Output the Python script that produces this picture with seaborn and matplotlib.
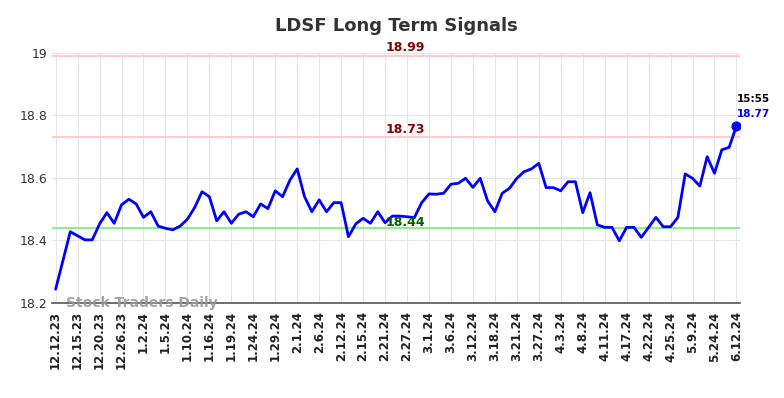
"""LDSF long term signals chart."""

import matplotlib

matplotlib.use("Agg")
import matplotlib.pyplot as plt
import matplotlib.transforms as mtransforms
import pandas as pd
import seaborn as sns


TICK_LABELS = [
    "12.12.23", "12.15.23", "12.20.23", "12.26.23", "1.2.24", "1.5.24",
    "1.10.24", "1.16.24", "1.19.24", "1.24.24", "1.29.24", "2.1.24",
    "2.6.24", "2.12.24", "2.15.24", "2.21.24", "2.27.24", "3.1.24",
    "3.6.24", "3.12.24", "3.18.24", "3.21.24", "3.27.24", "4.3.24",
    "4.8.24", "4.11.24", "4.17.24", "4.22.24", "4.25.24", "5.9.24",
    "5.24.24", "6.12.24",
]

PRICES = [
    18.244, 18.336, 18.428, 18.415, 18.402, 18.402, 18.453, 18.489,
    18.455, 18.514, 18.532, 18.517, 18.474, 18.492, 18.446, 18.439,
    18.434, 18.446, 18.468, 18.506, 18.556, 18.540, 18.463, 18.492,
    18.455, 18.484, 18.492, 18.476, 18.517, 18.502, 18.559, 18.540,
    18.593, 18.629, 18.540, 18.492, 18.530, 18.492, 18.521, 18.521,
    18.412, 18.453, 18.471, 18.455, 18.492, 18.457, 18.478, 18.478,
    18.476, 18.473, 18.521, 18.549, 18.548, 18.551, 18.580, 18.583,
    18.599, 18.570, 18.599, 18.527, 18.492, 18.551, 18.567, 18.599,
    18.620, 18.629, 18.647, 18.569, 18.569, 18.559, 18.588, 18.588,
    18.489, 18.553, 18.450, 18.442, 18.442, 18.399, 18.442, 18.442,
    18.410, 18.442, 18.474, 18.444, 18.444, 18.474, 18.613, 18.599,
    18.574, 18.668, 18.615, 18.690, 18.698, 18.766,
]

SIGNAL_HIGH = 18.99
SIGNAL_MID = 18.73
SIGNAL_LOW = 18.44
LAST_TIME = "15:55"
TICK_STEP = 3


def main():
    df = pd.DataFrame({"idx": range(len(PRICES)), "price": PRICES})

    sns.set_style("whitegrid", {"grid.color": "#e6e6e6"})
    plt.rcParams["font.family"] = ["DejaVu Sans"]

    fig = plt.figure(figsize=(7.84, 3.98), dpi=100)
    ax = fig.add_axes([0.0663, 0.2387, 0.8777, 0.6283])

    for level, color in [(SIGNAL_HIGH, "#ffcccc"), (SIGNAL_MID, "#ffcccc"), (SIGNAL_LOW, "#90ee90")]:
        ax.axhline(level, color=color, linewidth=1.5, zorder=1)

    sns.lineplot(data=df, x="idx", y="price", color="#0000ff", linewidth=2, ax=ax, zorder=3)

    last_i = len(PRICES) - 1
    last_v = PRICES[-1]
    ax.scatter([last_i], [last_v], color="#0000ff", s=40, zorder=4)
    ax.annotate(LAST_TIME, (last_i, last_v), xytext=(0, 16), textcoords="offset points",
                ha="left", va="bottom", fontsize=7.5, fontweight="bold", color="black")
    ax.annotate(f"{last_v:.2f}", (last_i, last_v), xytext=(0, 5), textcoords="offset points",
                ha="left", va="bottom", fontsize=7.5, fontweight="bold", color="#0000ff")

    trans = mtransforms.blended_transform_factory(ax.transAxes, ax.transData)
    ax.text(0.513, SIGNAL_HIGH + 0.005, f"{SIGNAL_HIGH:.2f}", transform=trans, ha="center",
            va="bottom", fontsize=9, fontweight="bold", color="#8b0000")
    ax.text(0.513, SIGNAL_MID + 0.005, f"{SIGNAL_MID:.2f}", transform=trans, ha="center",
            va="bottom", fontsize=9, fontweight="bold", color="#8b0000")
    ax.text(0.513, SIGNAL_LOW - 0.002, f"{SIGNAL_LOW:.2f}", transform=trans, ha="center",
            va="bottom", fontsize=9, fontweight="bold", color="#006400")

    ax.text(0.02, 0.0, "Stock Traders Daily", transform=ax.transAxes, ha="left", va="center",
            fontsize=10, fontweight="bold", color="#999999", alpha=0.9, zorder=5)

    ax.set_xlim(-0.5, last_i + 0.5)
    ax.set_ylim(18.2, 19.0)
    ax.set_yticks([18.2, 18.4, 18.6, 18.8, 19.0])
    ax.set_yticklabels(["18.2", "18.4", "18.6", "18.8", "19"])
    ticks = list(range(0, len(PRICES), TICK_STEP))
    ax.set_xticks(ticks)
    ax.set_xticklabels(TICK_LABELS, rotation=90, fontsize=8.5, fontweight="bold", color="#222222")
    ax.tick_params(axis="y", labelsize=9, colors="#333333", length=0)
    ax.tick_params(axis="x", length=0, pad=6)
    ax.set_xlabel("")
    ax.set_ylabel("")

    for side in ["left", "right", "top"]:
        ax.spines[side].set_visible(False)
    ax.spines["bottom"].set_color("#555555")
    ax.spines["bottom"].set_linewidth(1.2)

    ax.set_title("LDSF Long Term Signals", fontsize=13, fontweight="bold", color="#333333", pad=16)

    fig.savefig("out.png", dpi=100)
    plt.close(fig)


if __name__ == "__main__":
    main()
